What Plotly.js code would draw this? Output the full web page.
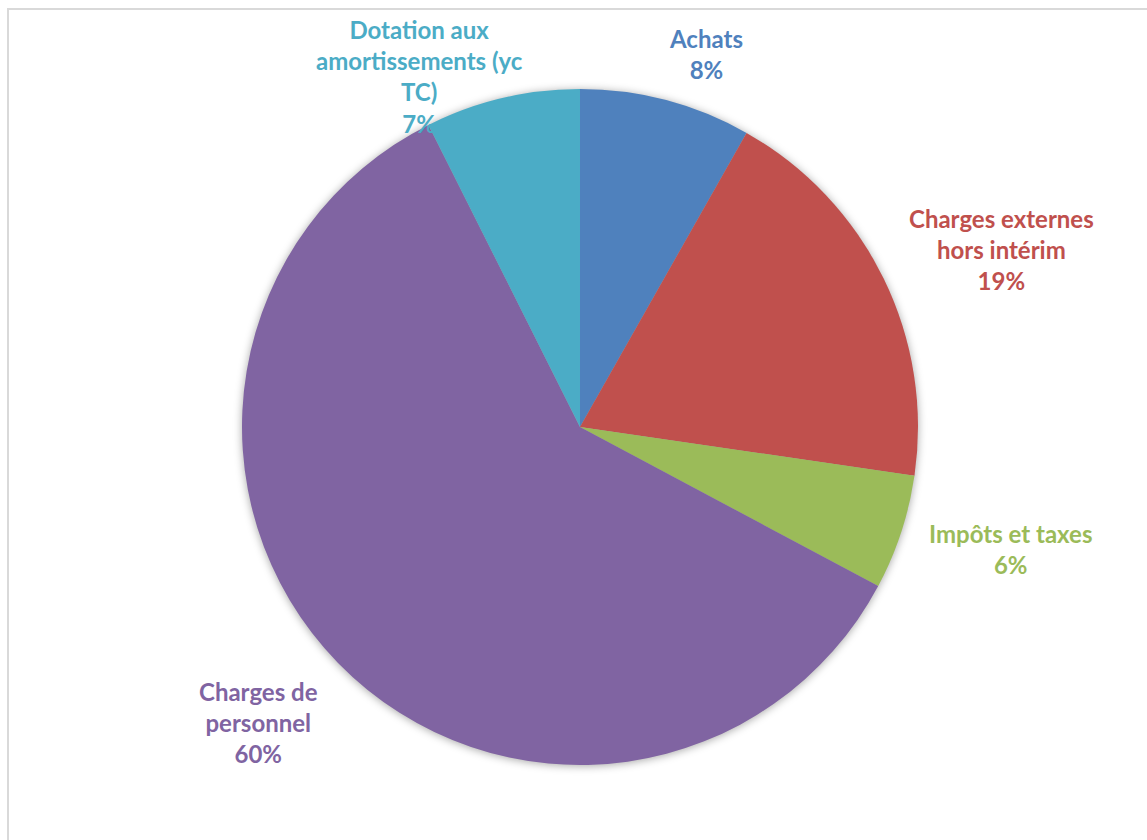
<!DOCTYPE html>
<html>
<head>
<meta charset="utf-8">
<script src="https://cdn.plot.ly/plotly-3.0.1.min.js"></script>
<style>
  html, body { margin: 0; padding: 0; background: #ffffff; }
  #frame { position: absolute; left: 7px; top: 8px; width: 1160px; height: 850px;
           border-top: 2px solid #d9d9d9; border-left: 2px solid #d9d9d9; box-sizing: border-box; }
  #chart { position: absolute; left: 0; top: 0; width: 1147px; height: 840px; }
  #chart .pielayer .trace { filter: drop-shadow(0px 1px 4px rgba(0,0,0,0.35)); }
</style>
</head>
<body>
<div id="frame"></div>
<div id="chart"></div>
<script>
const categories = [
  "Achats",
  "Charges externes<br>hors intérim",
  "Impôts et taxes",
  "Charges de<br>personnel",
  "Dotation aux<br>amortissements (yc<br>TC)"
];
const values = [8.2, 19.1, 5.5, 59.8, 7.4];
const colors = ["#4F81BD", "#C0504D", "#9BBB59", "#8064A2", "#4BACC6"];

// label block centres, in page pixels (layout only)
const labelPixelPos = [[706, 54], [1001, 249], [1010, 549], [258, 722], [419, 76]];

const W = 1147, H = 840;
const margin = { l: 100, r: 87, t: 89, b: 75 };
const plotW = W - margin.l - margin.r, plotH = H - margin.t - margin.b;

const total = values.reduce((a, b) => a + b, 0);
const annotations = categories.map((cat, i) => ({
  xref: "paper", yref: "paper",
  x: (labelPixelPos[i][0] - margin.l) / plotW,
  y: (H - margin.b - labelPixelPos[i][1]) / plotH,
  xanchor: "center", yanchor: "middle", align: "center",
  showarrow: false,
  text: cat + "<br>" + Math.round(values[i] / total * 100) + "%",
  font: { family: "Lato, 'Open Sans', sans-serif", size: 24, color: colors[i], weight: "bold" }
}));

const trace = {
  type: "pie",
  labels: categories,
  values: values,
  sort: false,
  direction: "clockwise",
  rotation: 0,
  marker: { colors: colors, line: { width: 0 } },
  textinfo: "none",
  showlegend: false,
  hoverinfo: "label+percent"
};

const layout = {
  width: W,
  height: H,
  margin: margin,
  paper_bgcolor: "rgba(0,0,0,0)",
  plot_bgcolor: "rgba(0,0,0,0)",
  showlegend: false,
  annotations: annotations
};

Plotly.newPlot("chart", [trace], layout, { displayModeBar: false, staticPlot: true });
</script>
</body>
</html>
